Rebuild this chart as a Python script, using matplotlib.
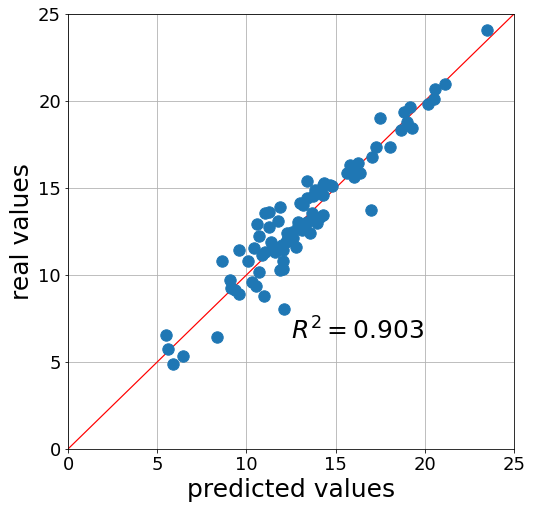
import numpy as np
import matplotlib
matplotlib.use("Agg")
import matplotlib.pyplot as plt

# predicted vs real values
predicted = [
    5.49, 5.62, 5.9, 6.47, 8.37, 12.11,
    8.65, 9.58, 10.1, 9.08, 9.15, 9.36, 9.6, 10.3, 10.54, 10.72, 11.0,
    12.07, 12.07, 11.88, 10.57, 11.04, 11.28, 11.88, 11.79, 11.28, 10.7,
    10.43, 10.85, 11.04, 11.36, 11.7, 11.6, 12.07, 11.97, 12.26, 12.54,
    12.78, 12.91, 13.1, 13.56, 13.38, 13.94, 14.13, 14.31, 13.19, 13.0,
    13.38, 13.75, 13.94, 14.31, 13.41, 14.69, 12.4, 12.9, 13.3, 12.2,
    12.6, 12.3, 11.5, 13.7,
    23.5, 21.13, 20.57, 20.52, 20.2, 19.17, 18.83, 17.49, 19.02, 18.64,
    19.3, 17.25, 18.05, 17.06, 16.27, 16.0, 15.8, 15.62, 16.05, 16.37,
    16.98, 14.78, 13.84, 14.31, 13.66, 14.35,
]
real = [
    6.55, 5.75, 4.9, 5.33, 6.42, 8.03,
    10.8, 11.44, 10.8, 9.71, 9.23, 9.14, 8.89, 9.62, 9.37, 10.19, 8.79,
    10.8, 10.33, 10.29, 12.91, 13.54, 13.64, 13.9, 13.1, 12.74, 12.24,
    11.53, 11.15, 11.34, 11.92, 11.53, 11.34, 11.44, 11.72, 12.39, 12.49,
    11.63, 13.06, 12.59, 12.43, 13.06, 12.97, 13.35, 13.45, 14.02, 14.12,
    14.4, 14.52, 14.69, 15.17, 15.4, 15.17, 12.2, 12.8, 12.7, 11.9,
    12.1, 12.0, 11.6, 13.2,
    24.08, 20.98, 20.69, 20.11, 19.83, 19.64, 19.39, 19.0, 18.82, 18.33,
    18.43, 17.34, 17.34, 16.76, 16.42, 16.23, 16.32, 15.84, 15.65, 15.88,
    13.74, 15.11, 14.89, 14.6, 13.54, 15.27,
]
r2 = 0.903
lims = [0, 25]

fig = plt.figure(figsize=(534 / 72, 510 / 72), dpi=72)
ax = fig.add_axes([68 / 534, 61 / 510, 446 / 534, 435 / 510])
ax.grid(True, color="#b0b0b0", linewidth=0.8, zorder=0)
ax.set_axisbelow(True)
ax.plot(lims, lims, color="red", linewidth=1.2, zorder=1)
ax.scatter(predicted, real, s=130, color="#1f77b4", zorder=2)
ax.set_xlim(lims)
ax.set_ylim(lims)
ax.set_xticks(np.arange(0, 26, 5))
ax.set_yticks(np.arange(0, 26, 5))
ax.tick_params(labelsize=18)
ax.set_xlabel("predicted values", fontsize=25)
ax.set_ylabel("real values", fontsize=25)
ax.text(12.5, 6.3, "$R^2 = %.3f$" % r2, fontsize=25)

fig.savefig("out.png", dpi=72)
